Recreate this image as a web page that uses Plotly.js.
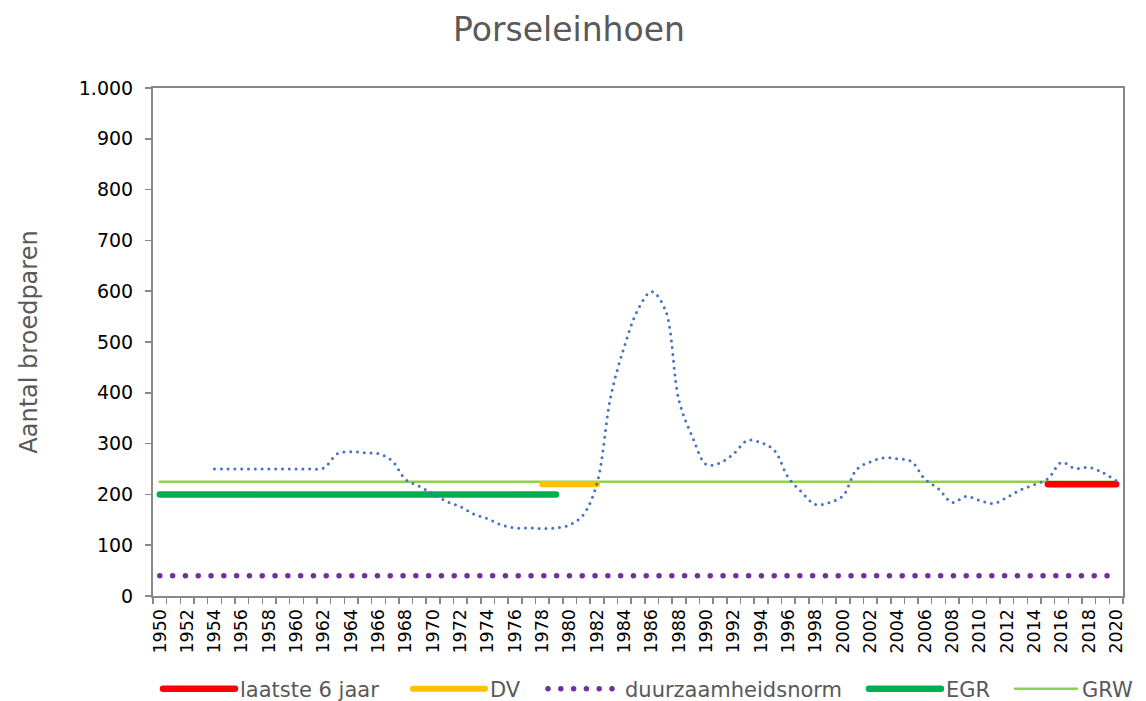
<!DOCTYPE html>
<html>
<head>
<meta charset="utf-8">
<script src="https://cdn.plot.ly/plotly-3.0.1.min.js"></script>
<style>
  html, body { margin: 0; padding: 0; background: #fff; }
  #chart { width: 1146px; height: 701px; }
  .js-line { stroke-linecap: round; }
</style>
</head>
<body>
<div id="chart"></div>
<script>
// ---- data ----
const years = [];
for (let y = 1950; y <= 2020; y++) years.push(y);

const broedparen = [
  null, null, null, null, 250, 250, 250, 250, 250, 250,   // 1950-1959
  250, 250, 252, 280, 284, 282, 280, 266, 229, 216,       // 1960-1969
  201, 186, 176, 161, 152, 140, 134, 134, 133, 134,       // 1970-1979
  140, 160, 222, 392, 491, 564, 599, 563, 385, 312,       // 1980-1989
  259, 262, 280, 306, 302, 286, 233, 204, 180, 184,       // 1990-1999
  197, 249, 264, 272, 270, 265, 230, 211, 184, 196,       // 2000-2009
  188, 182, 194, 209, 219, 231, 263, 251, 253, 243,       // 2010-2019
  227                                                     // 2020
];

const laatste6Years = [2015, 2020];
const laatste6Values = [220, 220];
const dvYears = [1978, 1982];
const dvValues = [220, 220];
const normYears = [1950, 2020];
const normValues = [40, 40];
const egrYears = [1950, 1979];
const egrValues = [200, 200];
const grwYears = [1950, 2020];
const grwValues = [225, 225];

const tickYears = [];
for (let y = 1950; y <= 2020; y += 2) tickYears.push(y);
const tickLabels = tickYears.map(String);

const FONT = 'DejaVu Sans, Verdana, sans-serif';
const W = 1146;

const traces = [
  { x: egrYears, y: egrValues, name: 'EGR', mode: 'lines', legend: 'legend4',
    line: { color: '#00B050', width: 6.5 } },
  { x: grwYears, y: grwValues, name: 'GRW', mode: 'lines', legend: 'legend5',
    line: { color: '#92D050', width: 2.5 } },
  { x: dvYears, y: dvValues, name: 'DV', mode: 'lines', legend: 'legend2',
    line: { color: '#FFC000', width: 6 } },
  { x: laatste6Years, y: laatste6Values, name: 'laatste 6 jaar', mode: 'lines', legend: 'legend',
    line: { color: '#FF0000', width: 6.5 } },
  { x: normYears, y: normValues, name: 'duurzaamheidsnorm', mode: 'lines', legend: 'legend3',
    line: { color: '#7030A0', width: 5.5, dash: '0px,12.8px' } },
  { x: years, y: broedparen, name: 'Porseleinhoen', mode: 'lines',
    line: { color: '#4472C4', width: 3, dash: '0px,6.8px', shape: 'spline', smoothing: 1 },
    connectgaps: false, showlegend: false }
];

function legendAt(px, iw) {
  return {
    orientation: 'h',
    x: px / W, xanchor: 'left', xref: 'container',
    y: 0.017, yanchor: 'middle', yref: 'container',
    font: { family: FONT, size: 21, color: '#595959' },
    itemwidth: iw || 72,
    bgcolor: 'rgba(0,0,0,0)'
  };
}

const layout = {
  width: 1146, height: 701,
  margin: { l: 153, r: 23, t: 88, b: 105 },
  paper_bgcolor: '#ffffff', plot_bgcolor: '#ffffff',
  separators: ',.',
  font: { family: FONT, color: '#595959' },
  title: {
    text: 'Porseleinhoen',
    font: { family: FONT, size: 33, color: '#595959' },
    x: 569 / W, xanchor: 'center', xref: 'container',
    y: 0.958, yanchor: 'middle', yref: 'container'
  },
  xaxis: {
    range: [1949.5, 2020.5],
    tickmode: 'array', tickvals: tickYears, ticktext: tickLabels,
    tickangle: -90,
    ticks: '',
    ticklabelstandoff: 4,
    tickfont: { family: FONT, size: 17.5, color: '#000000' },
    minor: { tickmode: 'linear', tick0: 1949.5, dtick: 1, ticks: 'outside', ticklen: 6, tickcolor: '#888888', tickwidth: 1.5 },
    showline: true, linecolor: '#888888', linewidth: 2, mirror: true,
    showgrid: false, zeroline: false, fixedrange: true
  },
  yaxis: {
    range: [0, 1000],
    tickmode: 'linear', tick0: 0, dtick: 100,
    tickformat: ',d',
    ticks: 'outside', ticklen: 6, tickcolor: '#888888', tickwidth: 1.5,
    ticklabelstandoff: 8,
    tickfont: { family: FONT, size: 19, color: '#000000' },
    showline: true, linecolor: '#888888', linewidth: 2, mirror: true,
    showgrid: false, zeroline: false, fixedrange: true,
    title: { text: 'Aantal broedparen', font: { family: FONT, size: 24, color: '#595959' }, standoff: 34 }
  },
  legend: legendAt(158),
  legend2: legendAt(408),
  legend3: legendAt(543),
  legend4: legendAt(864),
  legend5: legendAt(1010, 62),
  showlegend: true
};

Plotly.newPlot('chart', traces, layout, { displayModeBar: false, staticPlot: true });
</script>
</body>
</html>
